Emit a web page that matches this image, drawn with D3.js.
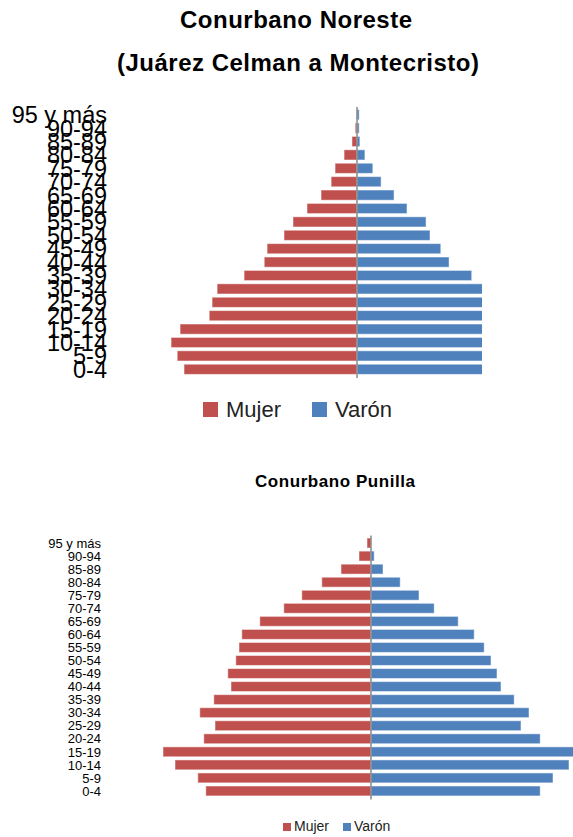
<!DOCTYPE html>
<head>
<meta charset="utf-8">
<style>
body {
  margin: 0;
  background: #fff;
}

text {
  font-family: "Liberation Sans", Arial, sans-serif;
  fill: #000;
}

.bar {
  stroke: #fff;
  stroke-opacity: 0.5;
  stroke-width: 1px;
}

.axis-line {
  stroke: #888;
  stroke-width: 1.5px;
}
</style>
</head>
<body>

<script src="https://cdn.jsdelivr.net/npm/d3@7"></script>
<script>
// age groups, bottom to top
var ages = ["0-4", "5-9", "10-14", "15-19", "20-24", "25-29", "30-34", "35-39", "40-44",
  "45-49", "50-54", "55-59", "60-64", "65-69", "70-74", "75-79", "80-84", "85-89", "90-94", "95 y más"];

var series = ["Mujer", "Varón"];
var colors = ["#C0504D", "#4F81BD"];

// Conurbano Noreste (% of population)
var noresteMujer = [4.81, 5.0, 5.17, 4.92, 4.11, 4.03, 3.89, 3.14, 2.58, 2.5,
  2.03, 1.78, 1.39, 1.0, 0.72, 0.61, 0.36, 0.14, 0.05, 0.01];
var noresteVaron = [4.6, 4.75, 4.9, 4.7, 4.0, 3.9, 3.75, 3.19, 2.56, 2.33,
  2.03, 1.92, 1.39, 1.03, 0.67, 0.44, 0.22, 0.08, 0.06, 0.06];

// Conurbano Punilla
var punillaMujer = [4.13, 4.33, 4.9, 5.2, 4.18, 3.9, 4.28, 3.93, 3.5, 3.58,
  3.38, 3.3, 3.23, 2.78, 2.18, 1.73, 1.23, 0.75, 0.3, 0.1];
var punillaVaron = [4.23, 4.55, 4.95, 5.15, 4.23, 3.75, 3.95, 3.58, 3.25, 3.15,
  3.0, 2.83, 2.58, 2.18, 1.58, 1.2, 0.73, 0.3, 0.08, 0];

var svg = d3.select("body").append("svg")
  .attr("width", 573)
  .attr("height", 837);

function pyramid(opt) {
  var g = svg.append("g");

  var x = d3.scaleLinear()
    .domain([-opt.max, opt.max])
    .range([opt.center - opt.half, opt.center + opt.half]);

  var y = d3.scaleBand()
    .domain(ages.slice().reverse())
    .range([opt.top, opt.bottom])
    .paddingInner(0.24)
    .paddingOuter(0.12);

  var clipId = "clip" + opt.id;
  svg.append("clipPath").attr("id", clipId)
    .append("rect")
    .attr("x", 0).attr("y", 0)
    .attr("width", opt.clipRight).attr("height", 837);

  var rows = ages.map(function(a, i) {
    return {age: a, mujer: opt.mujer[i], varon: opt.varon[i]};
  });

  var bars = g.append("g").attr("clip-path", "url(#" + clipId + ")");

  bars.selectAll(".m").data(rows).enter().append("rect")
    .attr("class", "bar m")
    .attr("x", function(d) { return x(-d.mujer); })
    .attr("y", function(d) { return y(d.age); })
    .attr("width", function(d) { return x(0) - x(-d.mujer); })
    .attr("height", y.bandwidth())
    .attr("fill", colors[0]);

  bars.selectAll(".v").data(rows).enter().append("rect")
    .attr("class", "bar v")
    .attr("x", x(0))
    .attr("y", function(d) { return y(d.age); })
    .attr("width", function(d) { return x(d.varon) - x(0); })
    .attr("height", y.bandwidth())
    .attr("fill", colors[1]);

  g.append("line")
    .attr("class", "axis-line")
    .attr("x1", x(0)).attr("x2", x(0))
    .attr("y1", opt.top - 1).attr("y2", opt.bottom + 2);

  // category labels (they overlap in the original too)
  g.selectAll(".lab").data(ages).enter().append("text")
    .attr("x", opt.labelX)
    .attr("y", function(d) { return y(d) + y.bandwidth() / 2; })
    .attr("dy", "0.36em")
    .attr("text-anchor", "end")
    .style("font-size", opt.labelSize + "px")
    .text(function(d) { return d; });

  // legend
  var leg = g.selectAll(".leg").data(series).enter().append("g")
    .attr("transform", function(d, i) { return "translate(" + opt.legendX[i] + "," + opt.legendY + ")"; });
  leg.append("rect")
    .attr("y", -opt.legendBox)
    .attr("width", opt.legendBox)
    .attr("height", opt.legendBox)
    .attr("fill", function(d, i) { return colors[i]; });
  leg.append("text")
    .attr("x", opt.legendBox + opt.legendGap)
    .attr("y", 0)
    .style("font-size", opt.legendSize + "px")
    .style("fill", "#222")
    .text(function(d) { return d; });
}

// titles
svg.append("text")
  .attr("x", 296).attr("y", 28)
  .attr("text-anchor", "middle")
  .attr("textLength", 232)
  .style("font-size", "24px").style("font-weight", "bold")
  .text("Conurbano Noreste");
svg.append("text")
  .attr("x", 298).attr("y", 71)
  .attr("text-anchor", "middle")
  .attr("textLength", 362)
  .style("font-size", "24px").style("font-weight", "bold")
  .text("(Juárez Celman a Montecristo)");

svg.append("text")
  .attr("x", 335).attr("y", 487)
  .attr("text-anchor", "middle")
  .attr("textLength", 160)
  .style("font-size", "17px").style("font-weight", "bold")
  .text("Conurbano Punilla");

pyramid({
  id: 1,
  mujer: noresteMujer, varon: noresteVaron,
  max: 5.2, center: 357, half: 187,
  top: 108, bottom: 376, clipRight: 482,
  labelX: 107, labelSize: 23.5,
  legendX: [203, 312], legendY: 417, legendBox: 15, legendGap: 8, legendSize: 22
});

pyramid({
  id: 2,
  mujer: punillaMujer, varon: punillaVaron,
  max: 5.2, center: 371, half: 208,
  top: 536.5, bottom: 797.5, clipRight: 573,
  labelX: 101, labelSize: 13,
  legendX: [283, 343], legendY: 831, legendBox: 8, legendGap: 3, legendSize: 14
});
</script>
</body>
